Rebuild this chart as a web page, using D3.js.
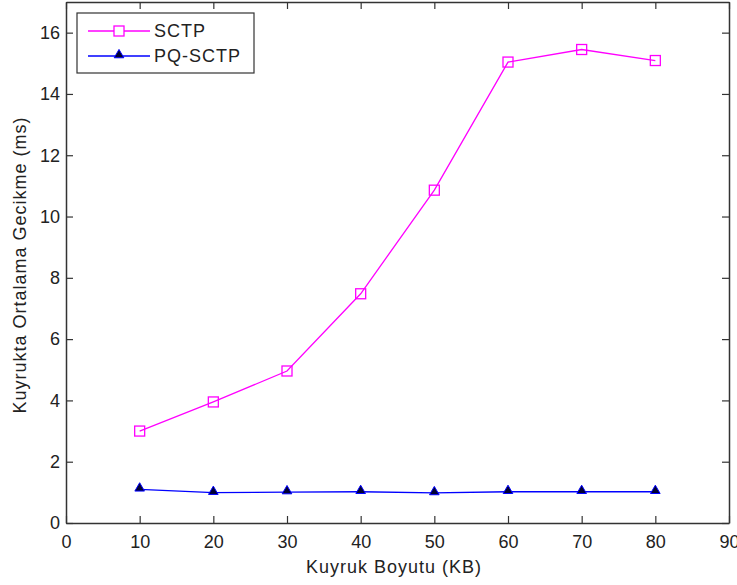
<!DOCTYPE html>
<html>
<head>
<meta charset="utf-8">
<script src="https://cdn.jsdelivr.net/npm/d3@7"></script>
<style>
  body { margin: 0; background: #fff; }
  text { font-family: "Liberation Sans", Arial, sans-serif; fill: #222; }
</style>
</head>
<body>
<div id="chart"></div>
<script>
const sizes = [10, 20, 30, 40, 50, 60, 70, 80];
const sctp = [3.0, 3.95, 4.96, 7.48, 10.86, 15.04, 15.45, 15.09];
const pqSctp = [1.1, 0.99, 1.01, 1.02, 0.98, 1.02, 1.02, 1.02];
const xTicks = [0, 10, 20, 30, 40, 50, 60, 70, 80, 90];
const yTicks = [0, 2, 4, 6, 8, 10, 12, 14, 16];

const width = 737, height = 585;
const m = { left: 66, right: 8, top: 2, bottom: 62 };

const svg = d3.select("#chart").append("svg").attr("width", width).attr("height", height);

const x = d3.scaleLinear().domain([0, 90]).range([m.left, width - m.right]);
const y = d3.scaleLinear().domain([0, 17]).range([height - m.bottom, m.top]);

// lines
const line = d3.line().x((d, i) => x(sizes[i])).y(d => y(d));

svg.append("path").datum(sctp).attr("d", line)
    .attr("fill", "none").attr("stroke", "#ff00ff").attr("stroke-width", 1.3);
svg.append("path").datum(pqSctp).attr("d", line)
    .attr("fill", "none").attr("stroke", "#0000ff").attr("stroke-width", 1.3);

// markers
svg.selectAll(".sq").data(sctp).enter().append("rect")
    .attr("x", (d, i) => x(sizes[i]) - 5).attr("y", d => y(d) - 5)
    .attr("width", 10).attr("height", 10)
    .attr("fill", "none").attr("stroke", "#ff00ff").attr("stroke-width", 1.3);

const tri = d3.symbol().type(d3.symbolTriangle).size(40);
svg.selectAll(".tri").data(pqSctp).enter().append("path")
    .attr("d", tri)
    .attr("transform", (d, i) => `translate(${x(sizes[i])},${y(d) - 1})`)
    .attr("fill", "#000033").attr("stroke", "#0000ff").attr("stroke-width", 1);

// axes box with inward ticks
const tk = 7;
const axes = svg.append("g");
axes.append("g").attr("transform", `translate(0,${y(0)})`)
    .call(d3.axisBottom(x).tickValues(xTicks).tickSizeInner(-tk).tickSizeOuter(0).tickPadding(12));
axes.append("g").attr("transform", `translate(0,${y(17)})`)
    .call(d3.axisTop(x).tickValues(xTicks).tickSizeInner(-tk).tickSizeOuter(0).tickFormat(""));
axes.append("g").attr("transform", `translate(${x(0)},0)`)
    .call(d3.axisLeft(y).tickValues(yTicks).tickSizeInner(-tk).tickSizeOuter(0).tickPadding(6));
axes.append("g").attr("transform", `translate(${x(90)},0)`)
    .call(d3.axisRight(y).tickValues(yTicks).tickSizeInner(-tk).tickSizeOuter(0).tickFormat(""));
axes.selectAll(".domain").attr("stroke", "#333").attr("stroke-width", 1.5);
axes.selectAll(".tick line").attr("stroke", "#333").attr("stroke-width", 1.2);
axes.selectAll(".tick text").attr("font-size", 18).attr("fill", "#222")
    .attr("font-family", "Liberation Sans, Arial, sans-serif");

// axis labels
svg.append("text").attr("x", 394).attr("y", 573)
    .attr("text-anchor", "middle").attr("font-size", 18).attr("letter-spacing", 1)
    .text("Kuyruk Boyutu (KB)");
svg.append("text").attr("transform", "translate(26,265) rotate(-90)")
    .attr("text-anchor", "middle").attr("font-size", 18).attr("letter-spacing", 1)
    .text("Kuyrukta Ortalama Gecikme (ms)");

// legend
const lg = svg.append("g");
lg.append("rect").attr("x", 77).attr("y", 13).attr("width", 177).attr("height", 60)
    .attr("fill", "#fff").attr("stroke", "#333").attr("stroke-width", 1.2);
const entries = [
  { name: "SCTP", color: "#ff00ff", mark: "sq" },
  { name: "PQ-SCTP", color: "#0000ff", mark: "tri" }
];
entries.forEach((e, i) => {
  const cy = 31 + i * 25;
  lg.append("line").attr("x1", 88).attr("x2", 150).attr("y1", cy).attr("y2", cy)
      .attr("stroke", e.color).attr("stroke-width", 1.3);
  if (e.mark === "sq") {
    lg.append("rect").attr("x", 114).attr("y", cy - 5).attr("width", 10).attr("height", 10)
        .attr("fill", "#fff").attr("stroke", e.color).attr("stroke-width", 1.3);
  } else {
    lg.append("path").attr("d", tri).attr("transform", `translate(119,${cy - 1})`)
        .attr("fill", "#000033").attr("stroke", e.color).attr("stroke-width", 1);
  }
  lg.append("text").attr("x", 154).attr("y", cy + 6).attr("font-size", 18)
      .attr("letter-spacing", 1).text(e.name);
});
</script>
</body>
</html>
